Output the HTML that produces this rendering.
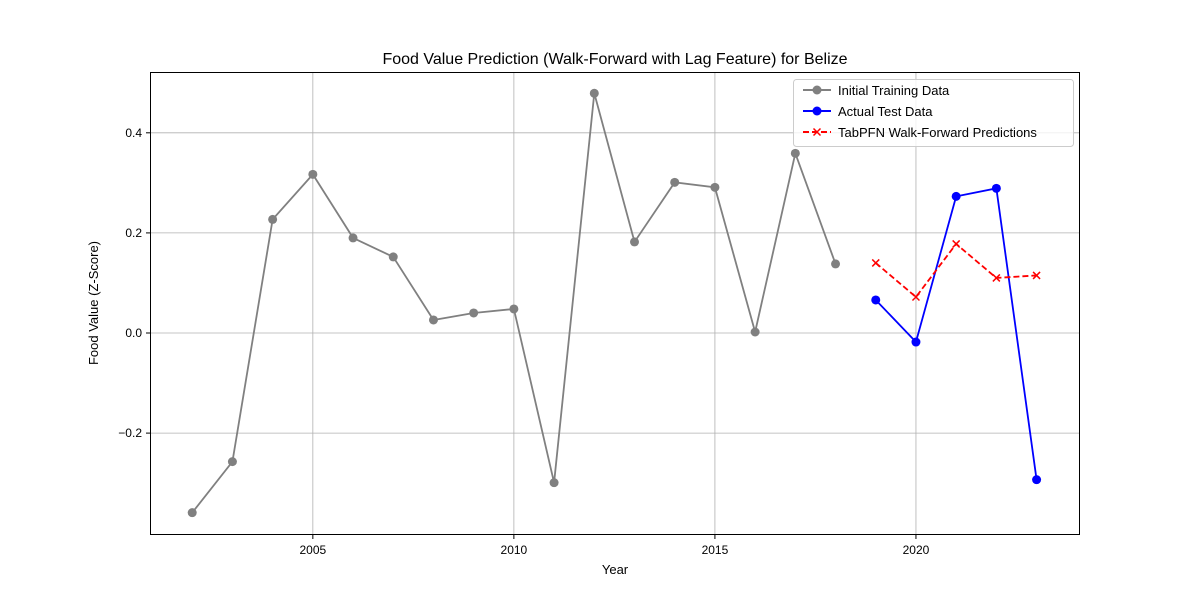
<!DOCTYPE html>
<html><head><meta charset="utf-8"><style>
body{margin:0;background:#fff;}
svg text{font-family:"Liberation Sans","DejaVu Sans",sans-serif;fill:#000;}
</style></head><body>
<svg id="chart" width="1200" height="600">
<rect x="0" y="0" width="1200" height="600" fill="#fff"/>
<g id="grid"></g>
<g id="series"></g>
<rect x="150.5" y="72.5" width="929" height="462" fill="none" stroke="#000" stroke-width="1"/>
<g id="axes"></g>
<text x="615" y="64" font-size="16" text-anchor="middle">Food Value Prediction (Walk-Forward with Lag Feature) for Belize</text>
<text x="615" y="574" font-size="13" text-anchor="middle">Year</text>
<text x="98" y="303" font-size="13" text-anchor="middle" transform="rotate(-90 98 303)">Food Value (Z-Score)</text>
<g>
<rect x="793.5" y="79.5" width="280" height="67" rx="3" fill="#fff" fill-opacity="0.8" stroke="#ccc"/>
<line x1="803" y1="90" x2="831" y2="90" stroke="gray" stroke-width="2"/><circle cx="817" cy="90" r="4.5" fill="gray"/>
<text x="838" y="95" font-size="13">Initial Training Data</text>
<line x1="803" y1="111" x2="831" y2="111" stroke="blue" stroke-width="2"/><circle cx="817" cy="111" r="4.5" fill="blue"/>
<text x="838" y="116" font-size="13">Actual Test Data</text>
<line x1="803" y1="132" x2="831" y2="132" stroke="red" stroke-width="2" stroke-dasharray="6,3"/>
<path d="M813.5 128.5l7 7M820.5 128.5l-7 7" stroke="red" stroke-width="1.5"/>
<text x="838" y="137" font-size="13">TabPFN Walk-Forward Predictions</text>
</g>
</svg>
<script>
const trainYears=[2002,2003,2004,2005,2006,2007,2008,2009,2010,2011,2012,2013,2014,2015,2016,2017,2018];
const trainValues=[-0.359,-0.257,0.227,0.317,0.19,0.152,0.026,0.04,0.048,-0.299,0.479,0.182,0.301,0.291,0.002,0.359,0.138];
const testYears=[2019,2020,2021,2022,2023];
const testValues=[0.066,-0.018,0.273,0.289,-0.293];
const predValues=[0.14,0.072,0.178,0.11,0.115];
const xTicks=[2005,2010,2015,2020];
const yTicks=[-0.2,0.0,0.2,0.4];
const yTickLabels=["\u22120.2","0.0","0.2","0.4"];
const X0=150,X1=1080,Y0=535,Y1=72,xmin=2000.95,xmax=2024.08,ymin=-0.4036,ymax=0.5215;
function sx(v){return X0+(v-xmin)/(xmax-xmin)*(X1-X0);}
function sy(v){return Y0-(v-ymin)/(ymax-ymin)*(Y0-Y1);}
const NS="http://www.w3.org/2000/svg";
function mk(t,a,p){const e=document.createElementNS(NS,t);for(const k in a)e.setAttribute(k,a[k]);p.appendChild(e);return e;}
const grid=document.getElementById('grid'),axes=document.getElementById('axes'),ser=document.getElementById('series');
xTicks.forEach(t=>{const x=sx(t);
const g=mk('line',{x1:x,x2:x,y1:Y1,y2:Y0,stroke:'#b0b0b0','stroke-width':0.8},grid);


mk('line',{x1:x,x2:x,y1:Y0,y2:Y0+4,stroke:'#000'},axes);
const l=mk('text',{x:x,y:Y0+19,'font-size':12,'text-anchor':'middle'},axes);l.textContent=t;

});
yTicks.forEach((t,i)=>{const y=sy(t);
const g=mk('line',{x1:X0,x2:X1,y1:y,y2:y,stroke:'#b0b0b0','stroke-width':0.8},grid);


mk('line',{x1:X0-4,x2:X0,y1:y,y2:y,stroke:'#000'},axes);
const l=mk('text',{x:X0-8,y:y+4,'font-size':12,'text-anchor':'end'},axes);l.textContent=yTickLabels[i];

});
function line(xs,ys,color,dash,name){
const p=mk('polyline',{points:xs.map((x,i)=>sx(x)+','+sy(ys[i])).join(' '),fill:'none',stroke:color,'stroke-width':1.8},ser);
if(dash)p.setAttribute('stroke-dasharray','6,3');

}
function dots(xs,ys,color,name){xs.forEach((x,i)=>{const c=mk('circle',{cx:sx(x),cy:sy(ys[i]),r:4.5,fill:color},ser);

});}
line(trainYears,trainValues,'gray',false,'training');dots(trainYears,trainValues,'gray','training');
line(testYears,testValues,'blue',false,'actual');dots(testYears,testValues,'blue','actual');
line(testYears,predValues,'red',true,'prediction');
testYears.forEach((x,i)=>{const cx=sx(x),cy=sy(predValues[i]);
const m=mk('path',{d:`M${cx-3.5} ${cy-3.5}l7 7M${cx+3.5} ${cy-3.5}l-7 7`,stroke:'red','stroke-width':1.5},ser);

});
</script>
</body></html>
